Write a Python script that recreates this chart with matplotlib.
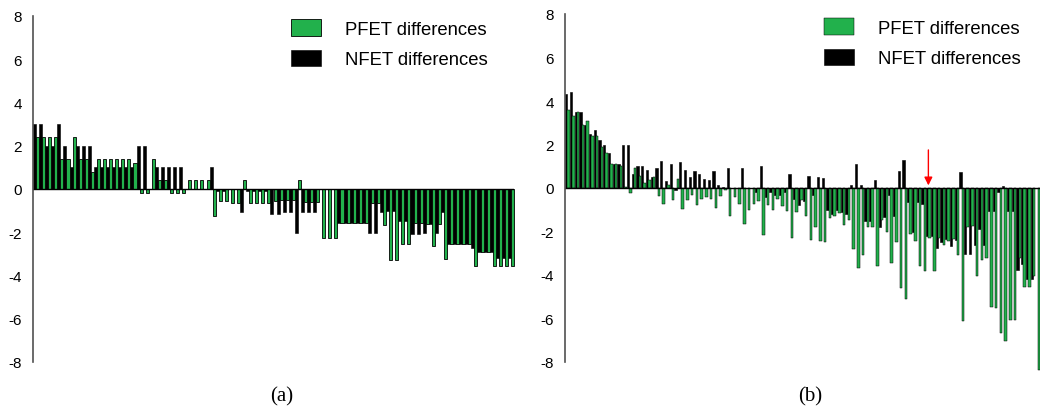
import matplotlib
matplotlib.use('Agg')
import matplotlib.pyplot as plt
import numpy as np

plt.rcParams['font.family'] = ['Liberation Sans', 'DejaVu Sans']

#panel (a) values, read pair by pair from left to right
pfet_a = [2.4, 2.4, 2.4, 2.4, 1.4, 1.4, 2.4, 1.4, 1.4, 0.8,
          1.4, 1.4, 1.4, 1.4, 1.4, 1.4, 1.2, -0.2, -0.2, 1.4,
          0.4, 0.4, -0.2, -0.2, -0.2, 0.4, 0.4, 0.4, 0.4, -1.25,
          -0.55, -0.55, -0.65, -0.65, 0.4, -0.65, -0.65, -0.65, -0.65, -0.55,
          -0.5, -0.5, -0.5, 0.4, -0.6, -0.6, -0.6, -2.25, -2.25, -2.25,
          -1.55, -1.55, -1.55, -1.55, -1.55, -0.65, -0.65, -1.65, -3.3, -3.3,
          -2.55, -2.55, -1.55, -1.55, -1.6, -2.65, -1.6, -3.25, -2.55, -2.55,
          -2.55, -2.55, -3.55, -2.9, -2.9, -3.55, -3.55, -3.55, -3.55]
nfet_a = [3.0, 3.0, 2.0, 2.0, 3.0, 2.0, 1.0, 2.0, 2.0, 2.0,
          1.0, 1.0, 1.0, 1.0, 1.0, 1.0, 1.0, 2.0, 2.0, 0.0,
          1.0, 1.0, 1.0, 1.0, 1.0, 0.0, 0.0, 0.0, 0.0, 1.0,
          -0.1, -0.1, 0.0, 0.0, -1.05, -0.1, -0.1, -0.1, -0.1, -1.15,
          -1.15, -1.05, -1.05, -2.05, -1.05, -1.05, -1.05, 0.0, 0.0, 0.0,
          -1.55, -1.55, -1.55, -1.55, -1.55, -2.05, -2.05, -1.05, -1.0, -1.0,
          -1.5, -1.5, -2.1, -2.1, -2.05, -1.6, -2.05, -1.05, -2.55, -2.55,
          -2.55, -2.55, -2.75, -2.9, -2.9, -2.9, -3.2, -3.2, -3.2]

#panel (b) values
pfet_b = [3.6, 3.3, 3.5, 2.9, 3.1, 2.4, 2.4, 1.9, 1.6, 1.1,
          1.1, 1.0, 0.05, -0.25, 0.9, 0.55, 0.25, 0.35, 0.5, -0.35,
          -0.75, 0.15, -0.55, 0.4, -0.95, -0.55, -0.3, -0.8, -0.5, -0.4,
          -0.5, -0.9, -0.35, -0.1, -1.3, -0.4, -0.75, -1.65, -1.0, -0.75,
          -0.6, -2.15, -0.8, -1.0, -0.5, -0.85, -1.05, -2.3, -1.1, -0.55,
          -1.3, -2.4, -1.8, -2.45, -2.5, -1.4, -1.3, -1.15, -1.7, -1.45,
          -2.8, -3.7, -3.1, -1.8, -1.8, -3.6, -1.45, -2.0, -3.45, -2.5,
          -4.6, -5.1, -2.1, -2.45, -3.6, -3.8, -2.3, -3.8, -2.3, -2.6,
          -2.45, -2.35, -3.1, -6.1, -1.8, -1.75, -4.05, -3.3, -3.2, -5.45,
          -5.5, -6.65, -7.05, -6.05, -6.05, -3.2, -4.55, -4.55, -4.05, -8.35]
nfet_b = [4.3, 4.4, 3.5, 3.5, 2.9, 2.5, 2.65, 2.2, 2.0, 1.6,
          1.1, 1.1, 2.0, 2.0, 0.65, 1.0, 1.0, 0.85, 0.5, 0.9,
          1.25, 0.3, 1.1, -0.1, 1.2, 0.85, 0.5, 0.8, 0.65, 0.4,
          0.35, 0.8, 0.15, 0.05, 0.9, 0.0, 0.0, 0.9, 0.0, 0.0,
          -0.2, 1.0, -0.4, -0.2, -0.3, -0.3, -0.2, 0.65, -0.5, -0.8,
          -0.6, 0.55, -0.3, 0.5, 0.45, -1.0, -1.2, -1.0, -1.1, -1.2,
          0.15, 1.1, 0.15, -1.5, -1.5, 0.35, -1.8, -1.35, -0.3, -1.3,
          0.8, 1.3, -0.65, -2.0, -0.65, -0.75, -2.2, -2.2, -2.75, -2.5,
          -2.35, -2.65, -2.4, 0.75, -3.05, -3.05, -2.6, -1.9, -2.6, -1.05,
          -1.05, -0.2, 0.1, -1.05, -1.05, -3.75, -3.5, -4.2, -4.2, 0.0]

yticks = [-8, -6, -4, -2, 0, 2, 4, 6, 8]
green = '#22b14c'

fig = plt.figure(figsize=(10.4, 4.14), dpi=100)
ax1 = fig.add_axes([33/1040, 1-363/414, 481/1040, 346/414])
ax2 = fig.add_axes([565/1040, 1-363/414, 475/1040, 348/414])

def draw_panel(ax, pf, nf, ew):
    x = np.arange(len(pf))
    ax.bar(x, nf, width=0.5, align='edge', color='black', edgecolor='black',
           linewidth=0.4, label='NFET differences', clip_on=False)
    ax.bar(x + 0.5, pf, width=0.5, align='edge', color=green, edgecolor='black',
           linewidth=ew, label='PFET differences', clip_on=False)
    ax.axhline(0, color='black', linewidth=1.0)
    ax.set_xlim(0, len(pf))
    ax.set_ylim(-8, 8)
    ax.set_yticks(yticks)
    ax.set_yticklabels([str(t) for t in yticks])
    ax.tick_params(axis='y', length=0, pad=8, labelsize=11)
    ax.set_xticks([])
    for s in ['top', 'right', 'bottom']:
        ax.spines[s].set_visible(False)
    ax.spines['left'].set_color('#505050')
    ax.spines['left'].set_linewidth(1.2)
    # legend with PFET on top
    h, l = ax.get_legend_handles_labels()
    return h[::-1], l[::-1]

leg_kw = dict(bbox_transform=fig.transFigure, frameon=False, fontsize=13.3,
              handlelength=1.65, handleheight=1.0, handletextpad=1.3,
              labelspacing=0.65, borderpad=0, borderaxespad=0, loc='upper left')

h, l = draw_panel(ax1, pfet_a, nfet_a, 0.6)
ax1.legend(h, l, bbox_to_anchor=(291/1040, 1-20/414), **leg_kw)

h, l = draw_panel(ax2, pfet_b, nfet_b, 0.35)
ax2.legend(h, l, bbox_to_anchor=(824/1040, 1-19/414), **leg_kw)

#red arrow in (b)
ax2.annotate('', xy=(76.5, 0.12), xytext=(76.5, 1.75),
             arrowprops=dict(arrowstyle='-|>', color='red', lw=1.0,
                             mutation_scale=12, shrinkA=0, shrinkB=0))

fig.text(282/1040, 1-397/414, '(a)', ha='center', va='center',
         fontsize=15, family=['Liberation Serif', 'DejaVu Serif'])
fig.text(810/1040, 1-397/414, '(b)', ha='center', va='center',
         fontsize=15, family=['Liberation Serif', 'DejaVu Serif'])

fig.savefig('out.png', dpi=100)
